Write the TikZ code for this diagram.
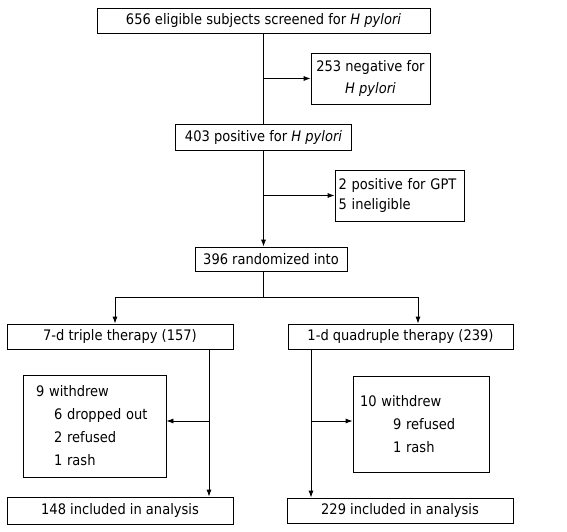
\documentclass[tikz,border=0pt]{standalone}
\usepackage{fontspec}
\setmainfont{DejaVu Sans}[FakeStretch=0.9]
\usetikzlibrary{arrows.meta}

\tikzset{
	flowbox/.style={draw, rectangle, line width=0.8pt, inner sep=0pt, align=center,
		font=\fontsize{14.5}{22}\selectfont},
	listbox/.style={flowbox, align=left},
}

\begin{document}
\begin{tikzpicture}[x=1pt, y=-1pt, line width=0.8pt, >={Latex[length=7pt,width=5pt]}]
				\useasboundingbox (0,0) rectangle (567,532);
				
				\node (screen) [flowbox, minimum width=333pt, minimum height=25pt] at (263.5,20.5) {656 eligible subjects screened for \textit{H pylori}};
				\node (negative) [flowbox, minimum width=119pt, minimum height=51pt] at (370.5,78.5) {253 negative for\\\textit{H pylori}};
				\node (positive) [flowbox, minimum width=176pt, minimum height=26pt] at (263.5,137) {403 positive for \textit{H pylori}};
				\node (gpt) [listbox, text width=122pt, inner xsep=3.5pt, minimum height=51pt] at (399.5,195.5) {2 positive for GPT\\[-2pt]5 ineligible};
				\node (rand) [flowbox, minimum width=152pt, minimum height=24pt] at (271,259) {396 randomized into};
				\node (triple) [flowbox, minimum width=226pt, minimum height=25pt] at (120,336.5) {7-d triple therapy (157)};
				\node (quad) [flowbox, minimum width=225pt, minimum height=25pt] at (400.5,336.5) {1-d quadruple therapy (239)};
				\node (wleft) [listbox, text width=117pt, inner xsep=13pt, minimum height=102pt] at (94.5,426) {9 withdrew\\[1pt]\hspace*{18pt}6 dropped out\\[1pt]\hspace*{18pt}2 refused\\[1pt]\hspace*{18pt}1 rash};
				\node (wright) [listbox, text width=122pt, inner xsep=7pt, minimum height=96pt] at (421,424) {10 withdrew\\[1pt]\hspace*{33pt}9 refused\\[1pt]\hspace*{33pt}1 rash};
				\node (inleft) [flowbox, minimum width=226pt, minimum height=27pt] at (120,510.5) {148 included in analysis};
				\node (inright) [flowbox, minimum width=226pt, minimum height=25pt] at (400,510.5) {229 included in analysis};
				
				\coordinate (forkL) at (115,297);
				\coordinate (forkR) at (418,297);
				\coordinate (dropL) at (209,421);
				\coordinate (dropR) at (311,421);
				
				% Arrows
				\draw (screen.south) -- (positive.north);
				\draw[->] (screen.south |- negative.west) -- (negative.west);
				\draw[->] (positive.south) -- (positive.south |- rand.north);
				\draw[->] (positive.south |- gpt.west) -- (gpt.west);
				\draw (positive.south |- rand.south) -- (positive.south |- forkL);
				\draw (forkL) -- (forkR);
				\draw[->] (forkL) -- (forkL |- triple.north);
				\draw[->] (forkR) -- (forkR |- quad.north);
				\draw[->] (triple.south -| dropL) -- (inleft.north -| dropL);
				\draw[->] (dropL) -- (dropL -| wleft.east);
				\draw[->] (quad.south -| dropR) -- (inright.north -| dropR);
				\draw[->] (dropR) -- (dropR -| wright.west);
				
			\end{tikzpicture}
\end{document}
